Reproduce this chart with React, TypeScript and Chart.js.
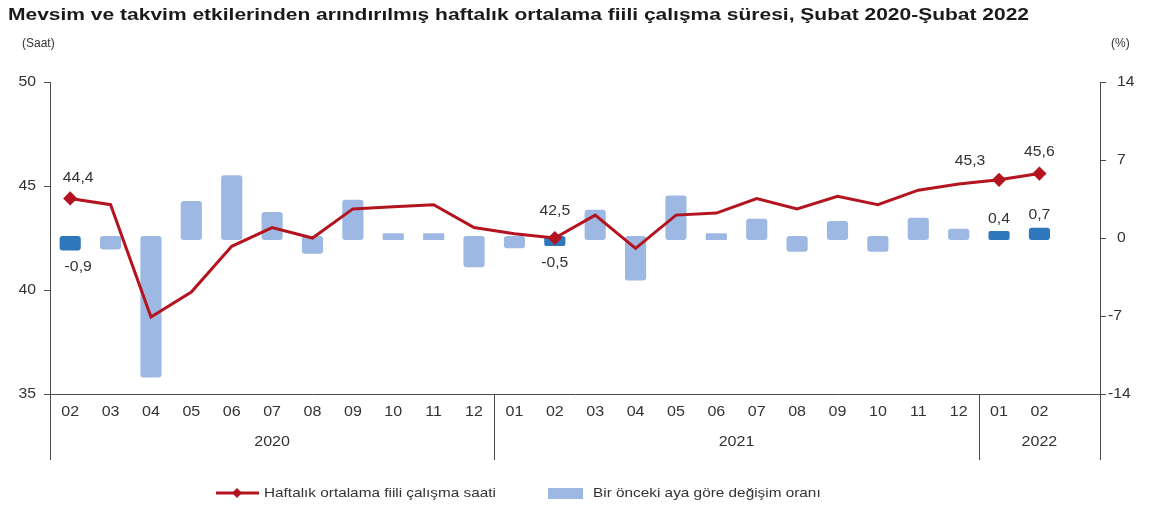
import React, { useEffect, useRef } from "react";
import { Chart, registerables } from "chart.js";

Chart.register(...registerables);

const TITLE = "Mevsim ve takvim etkilerinden arındırılmış haftalık ortalama fiili çalışma süresi, Şubat 2020-Şubat 2022";
const months = ["02", "03", "04", "05", "06", "07", "08", "09", "10", "11", "12", "01", "02", "03", "04", "05", "06", "07", "08", "09", "10", "11", "12", "01", "02", ""];
const yearGroups = [
  { label: "2020", from: 0, to: 10 },
  { label: "2021", from: 11, to: 22 },
  { label: "2022", from: 23, to: 25 },
];
const hours = [44.4, 44.1, 38.7, 39.9, 42.1, 43.0, 42.5, 43.9, 44.0, 44.1, 43.0, 42.7, 42.5, 43.6, 42.0, 43.6, 43.7, 44.4, 43.9, 44.5, 44.1, 44.8, 45.1, 45.3, 45.6, null];
const changes = [-0.9, -0.8, -12.3, 3.1, 5.4, 2.1, -1.2, 3.2, 0.2, 0.2, -2.4, -0.7, -0.5, 2.3, -3.6, 3.6, 0.2, 1.5, -1.0, 1.3, -1.0, 1.6, 0.6, 0.4, 0.7, null];
const highlighted = [0, 12, 23, 24];
const leftTicks = [35, 40, 45, 50];
const rightTicks = [-14, -7, 0, 7, 14];
const lineLabelName = "Haftalık ortalama fiili çalışma saati";
const barLabelName = "Bir önceki aya göre değişim oranı";

const LINE_COLOR = "#B3141F";
const BAR_LIGHT = "#9DB8E2";
const BAR_DARK = "#2E77BD";
const TEXT = "#333333";
const AXIS = "#4a4a4a";
const FONT = "'Liberation Sans', Arial, sans-serif";

const fmt = (v: number) => v.toFixed(1).replace(".", ",");

function txt(ctx: any, s: string, x: number, y: number, align: string, sx = 1) {
  ctx.save();
  ctx.translate(x, y);
  ctx.scale(sx, 1);
  ctx.textAlign = align;
  ctx.textBaseline = "middle";
  ctx.fillText(s, 0, 0);
  ctx.restore();
}

const decorPlugin = {
  id: "decor",
  afterDraw(chart: any) {
    const ctx = chart.ctx;
    const xs = chart.scales.x;
    const yl = chart.scales.y;
    const yr = chart.scales.y1;
    const area = chart.chartArea;
    ctx.save();
    // Title
    ctx.fillStyle = "#1a1a1a";
    ctx.font = `bold 17px ${FONT}`;
    txt(ctx, TITLE, 8, 15, "left", 1.235);
    // Unit labels
    ctx.font = `12px ${FONT}`;
    ctx.fillStyle = TEXT;
    txt(ctx, "(Saat)", 22, 44, "left");
    txt(ctx, "(%)", 1111, 44, "left");

    // Axis tick labels
    ctx.font = `15px ${FONT}`;
    leftTicks.forEach((v) => txt(ctx, String(v), 36, yl.getPixelForValue(v), "right", 1.05));
    rightTicks.forEach((v) => txt(ctx, String(v), v < 0 ? 1108 : 1117, yr.getPixelForValue(v), "left", 1.05));
    months.forEach((m, i) => {
      if (m) txt(ctx, m, xs.getPixelForValue(i), 412, "center", 1.07);
    });

    // Year separators and labels
    const boundary = (i: number) => (xs.getPixelForValue(i) + xs.getPixelForValue(i + 1)) / 2;
    ctx.strokeStyle = AXIS;
    ctx.lineWidth = 1;
    const seps = [area.left, boundary(10), boundary(22), area.right];
    seps.forEach((x) => {
      ctx.beginPath();
      ctx.moveTo(Math.round(x) + 0.5, area.bottom);
      ctx.lineTo(Math.round(x) + 0.5, 460);
      ctx.stroke();
    });
    yearGroups.forEach((g) => {
      const l = g.from === 0 ? area.left : boundary(g.from - 1);
      const r = g.to === months.length - 1 ? area.right : boundary(g.to);
      txt(ctx, g.label, (l + r) / 2, 442, "center", 1.07);
    });

    // Data labels
    const lineMeta = chart.getDatasetMeta(1);
    const barMeta = chart.getDatasetMeta(0);
    const lineOffsets: Record<number, [number, number]> = { 0: [8, -21], 12: [0, -27], 23: [-29, -19], 24: [0, -22] };
    highlighted.forEach((i) => {
      const p = lineMeta.data[i];
      const [dx, dy] = lineOffsets[i];
      txt(ctx, fmt(hours[i] as number), p.x + dx, p.y + dy, "center", 1.05);
      const b = barMeta.data[i];
      const v = changes[i] as number;
      if (v < 0) {
        txt(ctx, fmt(v), b.x + (i === 0 ? 8 : 0), b.y + 19, "center", 1.05);
      } else {
        txt(ctx, fmt(v), b.x, b.y - 15, "center", 1.05);
      }
    });

    // Legend
    const ly = 493;
    ctx.strokeStyle = LINE_COLOR;
    ctx.lineWidth = 3;
    ctx.beginPath();
    ctx.moveTo(216, ly);
    ctx.lineTo(259, ly);
    ctx.stroke();
    ctx.fillStyle = LINE_COLOR;
    ctx.beginPath();
    ctx.moveTo(237, ly - 5);
    ctx.lineTo(242, ly);
    ctx.lineTo(237, ly + 5);
    ctx.lineTo(232, ly);
    ctx.closePath();
    ctx.fill();
    ctx.fillStyle = TEXT;
    ctx.font = `13px ${FONT}`;
    txt(ctx, lineLabelName, 264, ly, "left", 1.18);
    ctx.fillStyle = BAR_LIGHT;
    ctx.fillRect(548, ly - 5, 35, 11);
    ctx.fillStyle = TEXT;
    txt(ctx, barLabelName, 593, ly, "left", 1.18);
    ctx.restore();
  },
};

export default function App() {
  const ref = useRef<HTMLCanvasElement | null>(null);
  useEffect(() => {
    document.body.style.margin = "0";
    const canvas = ref.current;
    if (!canvas) return;
    const chart = new Chart(canvas, {
      data: {
        labels: months,
        datasets: [
          {
            type: "bar",
            label: barLabelName,
            data: changes,
            yAxisID: "y1",
            order: 2,
            backgroundColor: changes.map((_, i) => (highlighted.includes(i) ? BAR_DARK : BAR_LIGHT)),
            borderWidth: 0,
            borderRadius: 3,
            borderSkipped: false,
            inflateAmount: 2.5,
            barPercentage: 0.4,
            categoryPercentage: 1,
          } as any,
          {
            type: "line",
            label: lineLabelName,
            data: hours,
            yAxisID: "y",
            order: 1,
            borderColor: LINE_COLOR,
            backgroundColor: LINE_COLOR,
            borderWidth: 3,
            tension: 0,
            pointStyle: "rectRot",
            pointRadius: hours.map((_, i) => (highlighted.includes(i) ? 5 : 0)),
            pointBackgroundColor: LINE_COLOR,
            pointBorderColor: LINE_COLOR,
          } as any,
        ],
      },
      options: {
        responsive: false,
        animation: false,
        layout: { padding: { left: 0, right: 0, top: 82, bottom: 0 } },
        plugins: { legend: { display: false }, title: { display: false }, tooltip: { enabled: false } },
        scales: {
          x: {
            type: "category",
            offset: true,
            grid: { display: false, drawTicks: false },
            border: { display: true, color: AXIS, width: 1 },
            ticks: { display: false },
            afterFit: (s: any) => { s.height = 116; },
          },
          y: {
            position: "left",
            min: 35,
            max: 50,
            afterBuildTicks: (s: any) => { s.ticks = leftTicks.map((v) => ({ value: v })); },
            grid: { drawOnChartArea: false, drawTicks: true, tickLength: 6, color: AXIS },
            border: { display: true, color: AXIS, width: 1 },
            ticks: { display: false },
            afterFit: (s: any) => { s.width = 50; },
          },
          y1: {
            position: "right",
            min: -14,
            max: 14,
            afterBuildTicks: (s: any) => { s.ticks = rightTicks.map((v) => ({ value: v })); },
            grid: { drawOnChartArea: false, drawTicks: true, tickLength: 6, color: AXIS },
            border: { display: true, color: AXIS, width: 1 },
            ticks: { display: false },
            afterFit: (s: any) => { s.width = 50; },
          },
        },
      } as any,
      plugins: [decorPlugin],
    });
    return () => chart.destroy();
  }, []);
  return (
    <div style={{ width: 1150, height: 510, background: "#fff" }}>
      <canvas ref={ref} width={1150} height={510} style={{ display: "block" }} />
    </div>
  );
}
